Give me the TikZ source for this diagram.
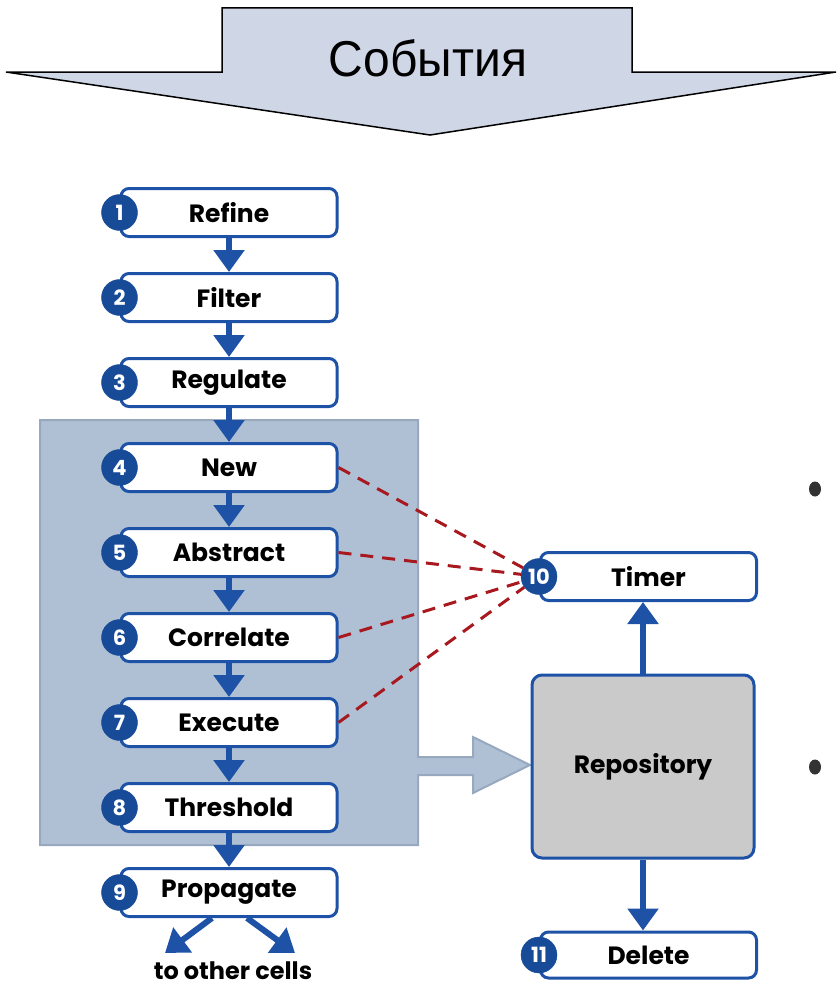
\documentclass[tikz,border=0pt]{standalone}
\usepackage{fontspec}
\setmainfont{Poppins}
\newfontfamily\rusfont{Liberation Sans}
\usetikzlibrary{arrows.meta,calc}
\definecolor{arrowfill}{HTML}{CFD6E6}
\definecolor{panelfill}{HTML}{AFC0D5}
\definecolor{panelline}{HTML}{98A9BF}
\definecolor{flowblue}{HTML}{1D52A6}
\definecolor{badgeblue}{HTML}{174A97}
\definecolor{dashred}{HTML}{A8191F}
\definecolor{repogray}{HTML}{CACACA}
\definecolor{dotgray}{HTML}{333333}
\tikzset{
  stepbox/.style={rectangle, rounded corners=8pt, draw=flowblue, line width=3pt, fill=white,
    minimum width=216pt, minimum height=48pt, inner sep=0pt,
    font=\fontsize{25}{28}\selectfont\bfseries},
  badge/.style={circle, fill=badgeblue, draw=badgeblue, minimum size=36pt, inner sep=0pt,
    text=white, font=\fontsize{21}{24}\selectfont\bfseries},
  flowarrow/.style={draw=flowblue, line width=6pt, -{Triangle[width=30pt,length=22pt]}},
  dashlink/.style={draw=dashred, line width=3pt, dash pattern=on 13pt off 9pt},
}
\begin{document}
\begin{tikzpicture}[x=1pt,y=-1pt]
\useasboundingbox (0,0) rectangle (839,990);
% top arrow
\fill[arrowfill, draw=black, line width=1.5pt, line join=miter]
  (222,8) -- (632,8) -- (632,72) -- (836,72) -- (430,135) -- (6,72) -- (222,72) -- cycle;
\node[font=\rusfont\fontsize{48}{54}\selectfont, yscale=1.05] (title) at (428,58) {События};
% panel with fat arrow
\fill[panelfill, draw=panelline, line width=2pt]
  (40,420) -- (418,420) -- (418,757) -- (473,757) -- (473,737) -- (530,765)
  -- (473,793) -- (473,775) -- (418,775) -- (418,845) -- (40,845) -- cycle;
% flow boxes
\node[stepbox] (p1) at (229,212.5) {Refine};
\node[stepbox] (p2) at (229,297.5) {Filter};
\node[stepbox] (p3) at (229,382.5) {Regulate};
\node[stepbox] (p4) at (229,467.5) {New};
\node[stepbox] (p5) at (229,552.5) {Abstract};
\node[stepbox] (p6) at (229,637.5) {Correlate};
\node[stepbox] (p7) at (229,722.5) {Execute};
\node[stepbox] (p8) at (229,807.5) {Threshold};
\node[stepbox] (p9) at (229,892.5) {Propagate};
\foreach \i in {1,...,9} {\node[badge] (b\i) at (p\i.west) {\i};}
% right side
\node[stepbox] (timer) at (648.5,576.5) {Timer};
\node[badge] (b10) at (timer.west) {10};
\node[stepbox, fill=repogray, rounded corners=10pt, minimum width=222pt, minimum height=183pt] (repo) at (643,766.5) {Repository};
\node[stepbox, minimum height=46pt] (del) at (648.5,955) {Delete};
\node[badge] (b11) at (del.west) {11};
% flow arrows
\foreach \a/\b in {p1/p2,p2/p3,p3/p4,p4/p5,p5/p6,p6/p7,p7/p8,p8/p9}
  {\draw[flowarrow] (\a.south) -- (\b.north);}
\draw[flowarrow] (repo.north) -- (repo.north |- timer.south);
\draw[flowarrow] (repo.south) -- (repo.south |- del.north);
% propagate
\coordinate (tl) at (165,953);
\coordinate (tr) at (295,953);
\draw[flowarrow] ([xshift=-17pt]p9.south) -- (tl);
\draw[flowarrow] ([xshift=18pt]p9.south) -- (tr);
\node[font=\fontsize{24}{27}\selectfont\bfseries, anchor=base, inner sep=0pt] (cells) at (233,979) {to other cells};
% dashed links
\foreach \p in {p4,p5,p6,p7} {\draw[dashlink] (\p.east) -- (b10);}
% stray bullets
\fill[dotgray] (815,489) ellipse (6pt and 7.5pt);
\fill[dotgray] (815,767) ellipse (6pt and 7.5pt);
\end{tikzpicture}
\end{document}
